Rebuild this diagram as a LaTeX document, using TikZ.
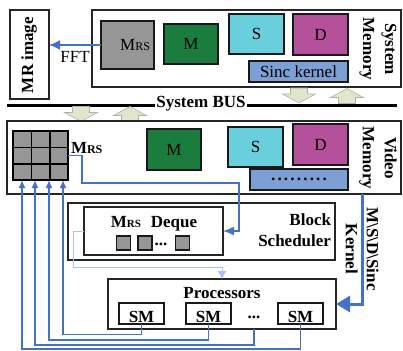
\documentclass[tikz,border=0pt]{standalone}
\usepackage{fontspec}
\setmainfont{Liberation Serif}
\usetikzlibrary{arrows.meta}

\definecolor{cellgray}{RGB}{150,150,150}
\definecolor{mgreen}{RGB}{27,125,61}
\definecolor{scyan}{RGB}{106,207,221}
\definecolor{dmagenta}{RGB}{181,80,154}
\definecolor{kblue}{RGB}{124,159,214}
\definecolor{wire}{RGB}{68,114,196}
\definecolor{wirelight}{RGB}{170,196,235}
\definecolor{busfill}{RGB}{226,229,206}
\definecolor{busedge}{RGB}{175,180,160}

% M with small-capital "RS"
\newcommand{\mrs}[1]{M{\fontsize{#1}{#1}\selectfont RS}}
% row of nine spaced dots
\newcommand{\dotrow}{.\kern2.2pt.\kern2.2pt.\kern2.2pt.\kern2.2pt.\kern2.2pt.\kern2.2pt.\kern2.2pt.\kern2.2pt.}

\tikzset{
  busarrow/.pic={
    \draw[draw=busedge, fill=busfill, line width=0.6pt]
      (-8.5,0) -- (-8.5,6) -- (-16.5,6) -- (0,15) -- (16.5,6) -- (8.5,6) -- (8.5,0) -- cycle;
  }
}

\begin{document}
\begin{tikzpicture}[x=1pt, y=-1pt,
  every node/.style={inner sep=0pt, outer sep=0pt},
  txt/.style={font=\fontsize{17}{20}\selectfont},
  btxt/.style={font=\fontsize{17}{20}\selectfont\bfseries},
  frame/.style={draw=black!85, line width=1.1pt},
  cbox/.style={draw=black!90, line width=1.6pt, font=\fontsize{17}{20}\selectfont},
  smbox/.style={draw=black!90, line width=1.4pt, minimum width=45pt, minimum height=21pt,
    text height=17pt, text depth=0pt, font=\fontsize{17}{20}\selectfont\bfseries},
  qsq/.style={draw=black!90, line width=1.3pt, fill=cellgray, minimum size=14pt},
  wirearrow/.style={draw=wire, line width=1.4pt, -{Latex[length=8pt,width=7pt]}},
  lightwire/.style={draw=wirelight, line width=1pt, -{Latex[length=8pt,width=9pt]}, fill=none},
  kwire/.style={draw=wire, line width=3pt, -{Triangle[length=14pt,width=16pt]}},
]
\useasboundingbox (0,0) rectangle (403,350);

% ---------------- host side ----------------
\node[frame, minimum width=39pt, minimum height=89pt] (mrimg) at (29.5,54.5) {};
\node[btxt, rotate=90, anchor=base] at (33,55) {MR image};

\node[frame, minimum width=309pt, minimum height=77pt] (sysmem) at (246.5,48.5) {};
\node[cbox, fill=cellgray, minimum width=53pt, minimum height=48pt, text width=45pt, align=right]
  (mrs1) at (127.5,45) {\mrs{12}};
\node[cbox, fill=mgreen, minimum width=54pt, minimum height=40pt] (m1) at (191,44) {M};
\node[cbox, fill=scyan, minimum width=55pt, minimum height=40pt] (s1) at (256.5,34) {S};
\node[cbox, fill=dmagenta, minimum width=55pt, minimum height=41pt] (d1) at (320.5,34.5) {D};
\node[cbox, fill=kblue, minimum width=99pt, minimum height=21pt] (sinc) at (298.5,71.5) {Sinc kernel};
\node[rotate=-90, align=center, font=\fontsize{17}{22}\selectfont\bfseries] at (378,49) {System\\Memory};

\draw[draw=wire, line width=1.4pt, -{Latex[length=11pt,width=10pt]}]
  (mrs1.west) -- (mrimg.east |- mrs1.west)
  node[midway, below=6pt, txt] {FFT};

% ---------------- system bus ----------------
\coordinate (busL) at (7,105);
\coordinate (busR) at (397,105);
\draw[line width=3pt] (busL) -- (busR);
\node[btxt, fill=white, inner xsep=1.5pt, inner ysep=1pt] at (201,104) {System BUS};

\pic at (81,106.5) {busarrow};
\pic[rotate=180] at (130,121.5) {busarrow};
\pic at (299,88) {busarrow};
\pic[rotate=180] at (347,103.5) {busarrow};

% ---------------- device memory ----------------
\node[frame, minimum width=394pt, minimum height=73pt] (vidmem) at (204,157.5) {};
\node[draw=black, line width=1.6pt, fill=cellgray, minimum width=55pt, minimum height=49pt]
  (grid) at (40.5,155.5) {};
\draw[line width=1.6pt] (31.3,131) -- (31.3,180) (49.7,131) -- (49.7,180)
  (13,147.3) -- (68,147.3) (13,163.7) -- (68,163.7);
\node[btxt, anchor=base west] at (71,153) {\mrs{12}};
\node[cbox, fill=mgreen, minimum width=54pt, minimum height=41pt] (m2) at (174,149.5) {M};
\node[cbox, fill=scyan, minimum width=55pt, minimum height=40pt] (s2) at (255.5,147) {S};
\node[cbox, fill=dmagenta, minimum width=55pt, minimum height=41pt] (d2) at (320.5,144.5) {D};
\node[cbox, fill=kblue, minimum width=98pt, minimum height=21pt, font=\fontsize{17}{20}\selectfont\bfseries]
  (vdots) at (299,179.5) {\dotrow};
\node[rotate=-90, align=center, font=\fontsize{17}{22}\selectfont\bfseries] at (378,158) {Video\\Memory};

% ---------------- block scheduler ----------------
\node[frame, minimum width=267pt, minimum height=57pt] (sched) at (201.5,231.5) {};
\node[frame, minimum width=139pt, minimum height=48pt] (deque) at (153.5,231) {};
\node[btxt, anchor=base] at (154,227) {\mrs{11}\hspace{10pt}Deque};
\node[qsq] (q1) at (123.5,243) {};
\node[qsq] (q2) at (145,243) {};
\node[btxt, anchor=base] at (161,245) {...};
\node[qsq] (q3) at (182.5,243) {};
\node[anchor=east, align=right, font=\fontsize{17}{21}\selectfont\bfseries] at (331,230.7) {Block\\Scheduler};

% ---------------- processors ----------------
\node[frame, minimum width=228pt, minimum height=50pt] (proc) at (222,304) {};
\node[btxt, anchor=base] at (222,298) {Processors};
\node[smbox] (sm1) at (141.5,313.5) {SM};
\node[smbox] (sm2) at (208.5,313.5) {SM};
\node[btxt, anchor=base] (pdots) at (254,318.5) {...};
\node[smbox] (sm3) at (300.5,313.5) {SM};

% ---------------- data paths ----------------
\draw[draw=wire, line width=1.4pt, -{Latex[length=11pt,width=9pt]}]
  (grid.east) -- (82,155.5) -- (82,183) -- (239,183) |- (deque.east);

\draw[lightwire] (deque.west) -- (73,231) -- (73,267) -| (proc.north);

\coordinate (g1) at (63,180);
\coordinate (g2) at (49,180);
\coordinate (g3) at (35,180);
\coordinate (g4) at (22,180);
\coordinate (pd) at (254,329);
\draw[wirearrow] (sm1.south) -- ++(0,10.5) -| (g1);
\draw[wirearrow] (sm2.south) -- ++(0,16) -| (g2);
\draw[wirearrow] (pd) -- ++(0,16) -| (g3);
\draw[wirearrow] (sm3.south) -- ++(0,25) -| (g4);

\coordinate (kin) at (362,194);
\draw[kwire] (kin) |- (proc.east);
\node[rotate=-90, align=center, font=\fontsize{17}{21}\selectfont\bfseries] at (362.3,249)
  {M\textbackslash S\textbackslash D\textbackslash Sinc\\Kernel};
\end{tikzpicture}
\end{document}
